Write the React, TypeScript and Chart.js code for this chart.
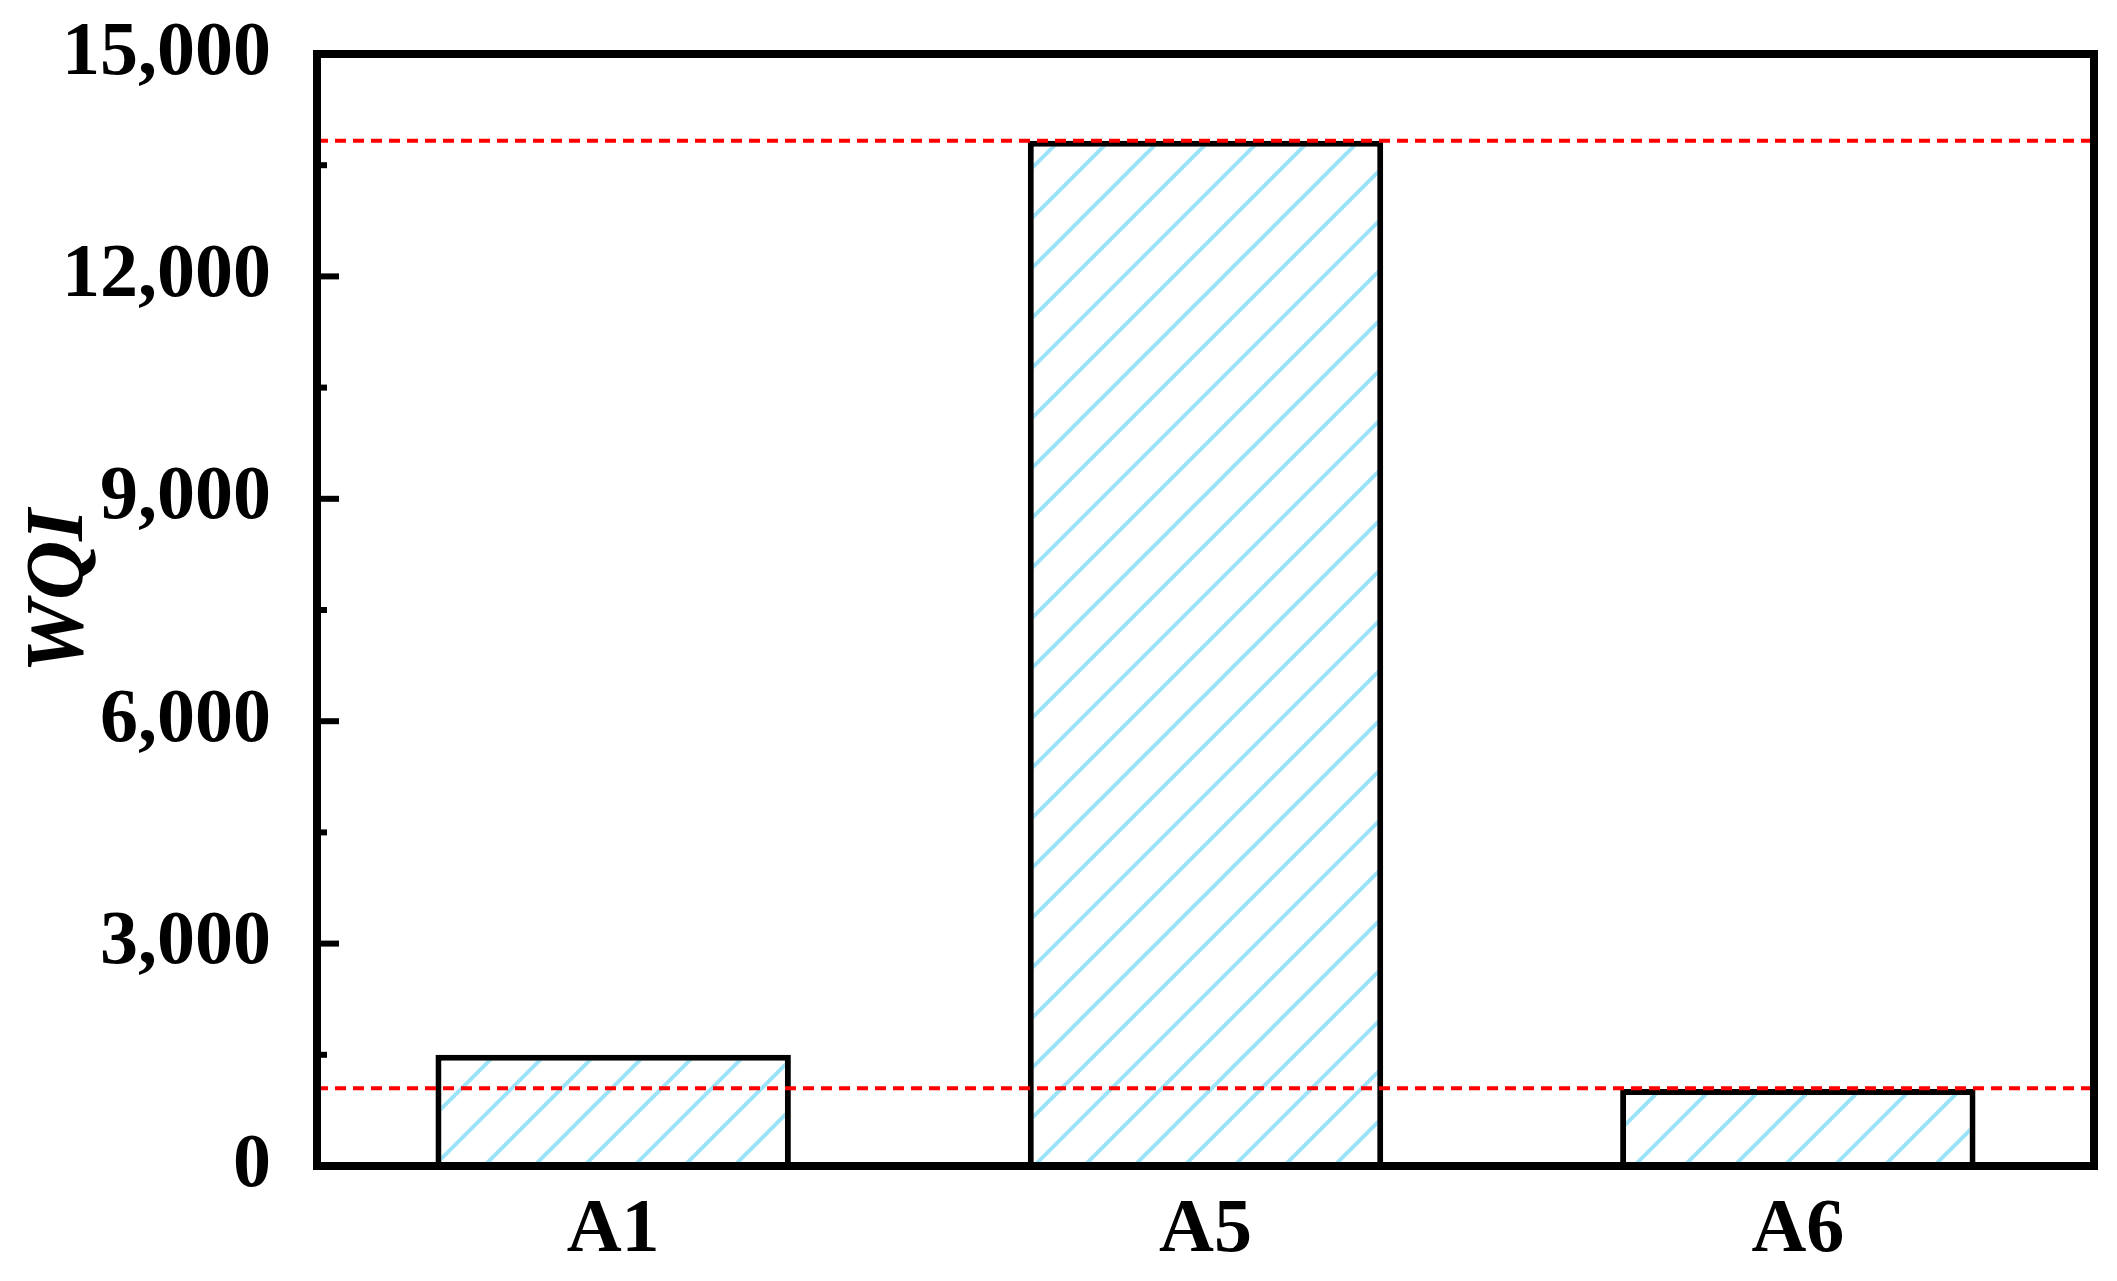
import React, { useEffect, useRef } from "react";
import { Chart, registerables } from "chart.js";

Chart.register(...registerables);

const categories = ["A1", "A5", "A6"];
const wqiValues = [1500, 13830, 1040];
const referenceLines = [13830, 1050];
const yMin = 0;
const yMax = 15000;
const yStep = 3000;
const yMinorStep = 1500;
const yTitle = "WQI";

const FONT = "'Liberation Serif', 'Times New Roman', serif";

function makeHatch(): CanvasPattern | string {
  const c = document.createElement("canvas");
  c.width = 50;
  c.height = 50;
  const g = c.getContext("2d");
  if (!g) return "#fff";
  g.fillStyle = "#ffffff";
  g.fillRect(0, 0, 50, 50);
  g.strokeStyle = "#9be3f9";
  g.lineWidth = 4;
  g.beginPath();
  g.moveTo(-10, 60);
  g.lineTo(60, -10);
  g.moveTo(-10, 10);
  g.lineTo(10, -10);
  g.moveTo(40, 60);
  g.lineTo(60, 40);
  g.stroke();
  const p = g.createPattern(c, "repeat");
  return p || "#fff";
}

const framePlugin = {
  id: "framePlugin",
  afterDatasetsDraw(chart: any) {
    const { ctx, chartArea } = chart;
    const y = chart.scales.y;
    ctx.save();
    ctx.strokeStyle = "#ff0000";
    ctx.lineWidth = 4;
    ctx.setLineDash([11, 7]);
    referenceLines.forEach((v) => {
      const py = y.getPixelForValue(v);
      ctx.beginPath();
      ctx.moveTo(chartArea.left, py);
      ctx.lineTo(chartArea.right, py);
      ctx.stroke();
    });
    ctx.restore();
  },
  afterDraw(chart: any) {
    const { ctx, chartArea } = chart;
    const y = chart.scales.y;
    ctx.save();
    ctx.strokeStyle = "#000";
    ctx.lineWidth = 8;
    ctx.lineJoin = "miter";
    ctx.strokeRect(
      chartArea.left,
      chartArea.top,
      chartArea.right - chartArea.left,
      chartArea.bottom - chartArea.top
    );
    ctx.lineWidth = 6;
    for (let v = yMin; v <= yMax; v += yMinorStep) {
      if (v === yMin || v === yMax) continue;
      const py = y.getPixelForValue(v);
      const major = v % yStep === 0;
      ctx.beginPath();
      ctx.moveTo(chartArea.left, py);
      ctx.lineTo(chartArea.left + (major ? 22 : 10), py);
      ctx.stroke();
    }
    ctx.fillStyle = "#000";
    ctx.font = `italic bold 82px ${FONT}`;
    ctx.textAlign = "center";
    ctx.textBaseline = "middle";
    ctx.translate(61, 591);
    ctx.rotate(-Math.PI / 2);
    ctx.fillText(yTitle, 0, 0);
    ctx.restore();
  },
};

function zeroPad(scale: any) {
  scale.paddingTop = 0;
  scale.paddingBottom = 0;
  scale.paddingLeft = 0;
  scale.paddingRight = 0;
}

export default function App() {
  const ref = useRef<HTMLCanvasElement | null>(null);
  useEffect(() => {
    if (!ref.current) return;
    const hatch = makeHatch();
    const chart = new Chart(ref.current, {
      type: "bar",
      data: {
        labels: categories,
        datasets: [
          {
            label: yTitle,
            data: wqiValues,
            backgroundColor: hatch as any,
            borderColor: "#000",
            borderWidth: 6,
            categoryPercentage: 1,
            barPercentage: 0.6,
          },
        ],
      },
      options: {
        animation: false,
        responsive: false,
        devicePixelRatio: 1,
        layout: { padding: { top: 54, right: 23, left: 0, bottom: 0 } },
        plugins: {
          legend: { display: false },
          tooltip: { enabled: false },
        },
        scales: {
          x: {
            grid: { display: false },
            border: { display: false },
            ticks: {
              color: "#000",
              padding: 12,
              font: { family: FONT, size: 76, weight: "bold", lineHeight: 1.2 },
            },
            afterFit(scale: any) {
              scale.height = 115;
              zeroPad(scale);
            },
          },
          y: {
            min: yMin,
            max: yMax,
            grid: { display: false },
            border: { display: false },
            ticks: {
              stepSize: yStep,
              color: "#000",
              padding: 38,
              font: { family: FONT, size: 76, weight: "bold", lineHeight: 1.2 },
              callback: (v: any) => Number(v).toLocaleString("en-US"),
            },
            afterFit(scale: any) {
              scale.width = 317;
              zeroPad(scale);
            },
          },
        },
      },
      plugins: [framePlugin],
    });
    return () => chart.destroy();
  }, []);
  return (
    <div style={{ position: "absolute", left: 0, top: 0, width: 2117, height: 1281, background: "#fff" }}>
      <canvas ref={ref} width={2117} height={1281} />
    </div>
  );
}
